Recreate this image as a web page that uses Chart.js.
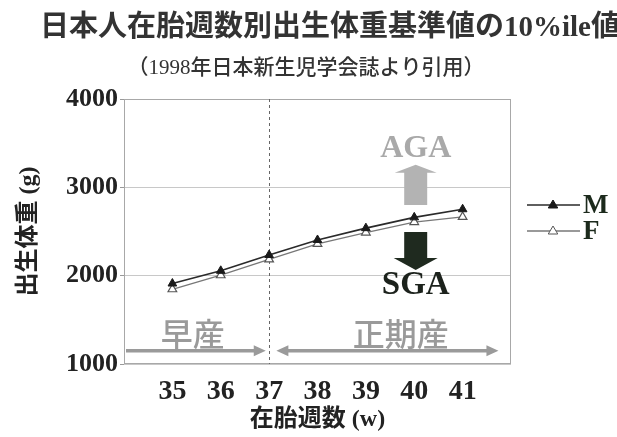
<!DOCTYPE html>
<html><head><meta charset="utf-8">
<script src="https://cdn.jsdelivr.net/npm/chart.js@4.4.1/dist/chart.umd.min.js"></script>
<style>html,body{margin:0;padding:0;background:#fff;}canvas{display:block;}</style>
</head><body>
<canvas id="c" width="617" height="437"></canvas>
<script>
// ---- data ----
const weeks = [35, 36, 37, 38, 39, 40, 41];
const maleValues = [1911, 2055, 2234, 2404, 2538, 2660, 2752];
const femaleValues = [1846, 2005, 2185, 2359, 2488, 2607, 2665];
const seriesNames = ['M', 'F'];
const yTickValues = [1000, 2000, 3000, 4000];
const titleText = '日本人在胎週数別出生体重基準値の10%ile値';
const subtitleText = '（1998年日本新生児学会誌より引用）';
const xTitleText = '在胎週数 (w)';
const yTitleText = '出生体重 (g)';
const boundaryWeek = 37;
const pretermLabel = '早産';
const termLabel = '正期産';
const agaLabel = 'AGA';
const sgaLabel = 'SGA';

// ---- styling / layout ----
const FONT = "'Liberation Serif', 'Noto Sans CJK JP', serif";
const CJK = "'Noto Sans CJK JP', sans-serif";
const X_MIN = 34, X_MAX = 42;

const decor = {
  id: 'decor',
  beforeDatasetsDraw(chart) {
    const { ctx, chartArea: a, scales: { x, y } } = chart;
    ctx.save();
    // frame
    ctx.strokeStyle = '#a8a8a8'; ctx.lineWidth = 1;
    ctx.strokeRect(a.left + 0.5, a.top + 0.5, a.width - 1, a.height - 1);
    // boundary dashed line
    const bx = Math.round(x.getPixelForValue(boundaryWeek)) + 0.5;
    ctx.strokeStyle = '#666'; ctx.setLineDash([3, 3]);
    ctx.beginPath(); ctx.moveTo(bx, a.top); ctx.lineTo(bx, a.bottom); ctx.stroke();
    ctx.setLineDash([]);

    // period arrows
    const ay = y.getPixelForValue(1150);
    const grey = '#9a9a9a';
    function hArrow(x1, x2, yy, leftHead, rightHead) {
      ctx.strokeStyle = grey; ctx.fillStyle = grey; ctx.lineWidth = 3.5;
      const hl = 12, hw = 5.5;
      ctx.beginPath();
      ctx.moveTo(leftHead ? x1 + hl - 2 : x1, yy);
      ctx.lineTo(rightHead ? x2 - hl + 2 : x2, yy);
      ctx.stroke();
      if (rightHead) { ctx.beginPath(); ctx.moveTo(x2, yy); ctx.lineTo(x2 - hl, yy - hw); ctx.lineTo(x2 - hl, yy + hw); ctx.closePath(); ctx.fill(); }
      if (leftHead) { ctx.beginPath(); ctx.moveTo(x1, yy); ctx.lineTo(x1 + hl, yy - hw); ctx.lineTo(x1 + hl, yy + hw); ctx.closePath(); ctx.fill(); }
    }
    hArrow(a.left + 2, x.getPixelForValue(36.93), ay, false, true);
    hArrow(x.getPixelForValue(37.15), x.getPixelForValue(41.74), ay, true, true);

    ctx.fillStyle = grey;
    ctx.font = '500 32px ' + CJK;
    ctx.textAlign = 'center'; ctx.textBaseline = 'middle';
    const ty = y.getPixelForValue(1345);
    ctx.fillText(pretermLabel, x.getPixelForValue(35.42), ty);
    ctx.fillText(termLabel, x.getPixelForValue(39.72), ty);

    // AGA / SGA block arrows
    function blockArrow(cx, yBase, yNeck, yTip, shaftW, headW, color) {
      ctx.fillStyle = color;
      ctx.beginPath();
      ctx.moveTo(cx - shaftW / 2, yBase);
      ctx.lineTo(cx - shaftW / 2, yNeck);
      ctx.lineTo(cx - headW / 2, yNeck);
      ctx.lineTo(cx, yTip);
      ctx.lineTo(cx + headW / 2, yNeck);
      ctx.lineTo(cx + shaftW / 2, yNeck);
      ctx.lineTo(cx + shaftW / 2, yBase);
      ctx.closePath(); ctx.fill();
    }
    const cx = x.getPixelForValue(40.03);
    blockArrow(cx, y.getPixelForValue(2800), y.getPixelForValue(3165), y.getPixelForValue(3255), 23, 42, '#b3b3b3');
    blockArrow(cx, y.getPixelForValue(2495), y.getPixelForValue(2200), y.getPixelForValue(2065), 23, 44, '#1f2a1f');

    ctx.font = 'bold 32px ' + FONT;
    ctx.fillStyle = '#a9a9a9';
    ctx.fillText(agaLabel, cx, y.getPixelForValue(3440));
    ctx.fillStyle = '#1c221c';
    ctx.font = 'bold 33px ' + FONT;
    ctx.fillText(sgaLabel, cx, y.getPixelForValue(1885));
    ctx.restore();
  },
  afterDraw(chart) {
    const { ctx } = chart;
    ctx.save();
    // title + subtitle
    ctx.textAlign = 'center'; ctx.textBaseline = 'middle';
    ctx.fillStyle = '#333';
    ctx.font = 'bold 29px ' + FONT;
    ctx.fillText(titleText, 330, 29);
    ctx.font = '500 21px ' + FONT;
    ctx.fillText(subtitleText, 306, 68);

    // legend
    const rows = [{ y: 205, ds: chart.data.datasets[0] }, { y: 231, ds: chart.data.datasets[1] }];
    rows.forEach(r => {
      ctx.strokeStyle = r.ds.borderColor; ctx.lineWidth = r.ds.borderWidth;
      ctx.beginPath(); ctx.moveTo(527, r.y); ctx.lineTo(580, r.y); ctx.stroke();
      const s = 5;
      ctx.beginPath();
      ctx.moveTo(553, r.y - s); ctx.lineTo(553 + s * 0.95, r.y + s * 0.6); ctx.lineTo(553 - s * 0.95, r.y + s * 0.6); ctx.closePath();
      ctx.fillStyle = r.ds.pointBackgroundColor; ctx.fill();
      ctx.strokeStyle = r.ds.pointBorderColor; ctx.lineWidth = 1; ctx.stroke();
      ctx.fillStyle = '#1c2a1c';
      ctx.font = 'bold 27px ' + FONT;
      ctx.textAlign = 'left'; ctx.textBaseline = 'middle';
      ctx.fillText(r.ds.label, 583, r.y + 1);
    });
    ctx.restore();
  }
};

new Chart(document.getElementById('c'), {
  type: 'line',
  data: {
    datasets: [
      {
        label: seriesNames[0],
        data: weeks.map((w, i) => ({ x: w, y: maleValues[i] })),
        borderColor: '#2a2a2a', borderWidth: 1.6,
        pointStyle: 'triangle', pointRadius: 5,
        pointBackgroundColor: '#1a1a1a', pointBorderColor: '#1a1a1a', pointBorderWidth: 1,
        tension: 0
      },
      {
        label: seriesNames[1],
        data: weeks.map((w, i) => ({ x: w, y: femaleValues[i] })),
        borderColor: '#777', borderWidth: 1.3,
        pointStyle: 'triangle', pointRadius: 5,
        pointBackgroundColor: '#ffffff', pointBorderColor: '#555', pointBorderWidth: 1.2,
        tension: 0
      }
    ]
  },
  options: {
    responsive: false,
    animation: false,
    devicePixelRatio: 1,
    layout: { padding: { left: 0, right: 106, top: 99, bottom: 0 } },
    plugins: {
      legend: { display: false },
      tooltip: { enabled: false },
      title: { display: false },
      subtitle: { display: false }
    },
    scales: {
      x: {
        type: 'linear', min: X_MIN, max: X_MAX,
        afterFit(s) { s.height = 73; },
        ticks: {
          stepSize: 1, autoSkip: false, maxRotation: 0, padding: 11,
          color: '#222', font: { family: FONT, size: 28, weight: 'bold' },
          callback: v => weeks.includes(v) ? String(v) : ''
        },
        grid: { display: false, drawTicks: false },
        border: { display: false },
        title: {
          display: true, text: xTitleText, color: '#222',
          font: { family: FONT, size: 24, weight: 'bold', lineHeight: 1.2 },
          padding: { top: 0, bottom: 3 }
        }
      },
      y: {
        min: 1000, max: 4000,
        afterFit(s) { s.width = 124; },
        afterBuildTicks(s) { s.ticks = yTickValues.map(v => ({ value: v })); },
        ticks: {
          padding: 2, color: '#222',
          font: { family: FONT, size: 26, weight: 'bold' },
          callback: v => String(v)
        },
        grid: { color: '#c8c8c8', lineWidth: 1, drawTicks: true, tickLength: 4, tickColor: '#999' },
        border: { display: false },
        title: {
          display: true, text: yTitleText, color: '#222',
          font: { family: FONT, size: 24, weight: 'bold', lineHeight: 1.2 },
          padding: { top: 14, bottom: 0 }
        }
      }
    }
  },
  plugins: [decor]
});
</script>
</body></html>
